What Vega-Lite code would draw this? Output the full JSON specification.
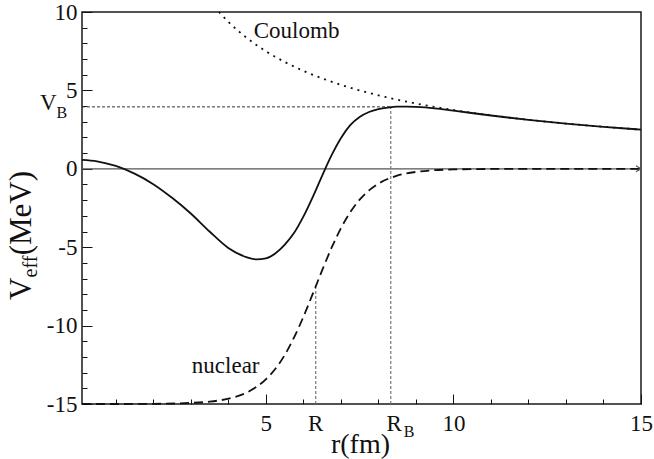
{
  "$schema": "https://vega.github.io/schema/vega-lite/v6.json",
  "width": 559,
  "height": 392,
  "autosize": "none",
  "padding": {"left": 82, "top": 12, "right": 13, "bottom": 55},
  "background": "white",
  "config": {
    "font": "Liberation Serif",
    "view": {"stroke": "#1a1a1a", "strokeWidth": 1.5},
    "axis": {
      "grid": false,
      "domain": false,
      "tickColor": "#111",
      "tickWidth": 1,
      "labelFont": "Liberation Serif",
      "labelFontSize": 23,
      "labelColor": "#111",
      "titleFont": "Liberation Serif",
      "titleColor": "#111",
      "titleFontWeight": "normal",
      "labelFlush": false,
      "labelOverlap": false
    }
  },
  "datasets": {
    "total": [
      {"r": 0.1, "v": 0.57}, {"r": 0.5, "v": 0.48}, {"r": 1.0, "v": 0.18}, {"r": 1.5, "v": -0.31},
      {"r": 2.0, "v": -0.98}, {"r": 2.5, "v": -1.85}, {"r": 3.0, "v": -2.85}, {"r": 3.5, "v": -4.0},
      {"r": 4.0, "v": -5.05}, {"r": 4.5, "v": -5.65}, {"r": 4.75, "v": -5.78}, {"r": 5.0, "v": -5.72},
      {"r": 5.25, "v": -5.4}, {"r": 5.5, "v": -4.85}, {"r": 5.75, "v": -4.1}, {"r": 6.0, "v": -3.05},
      {"r": 6.25, "v": -1.8}, {"r": 6.5, "v": -0.45}, {"r": 6.75, "v": 0.85}, {"r": 7.0, "v": 1.95},
      {"r": 7.25, "v": 2.78}, {"r": 7.5, "v": 3.3}, {"r": 7.75, "v": 3.62}, {"r": 8.0, "v": 3.8},
      {"r": 8.25, "v": 3.9}, {"r": 8.5, "v": 3.96}, {"r": 8.75, "v": 3.97}, {"r": 9.0, "v": 3.95},
      {"r": 9.5, "v": 3.86}, {"r": 10, "v": 3.71}, {"r": 11, "v": 3.4}, {"r": 12, "v": 3.12},
      {"r": 13, "v": 2.88}, {"r": 14, "v": 2.68}, {"r": 15, "v": 2.5}
    ],
    "nuclear": [
      {"r": 0.1, "v": -15}, {"r": 1, "v": -15}, {"r": 2, "v": -14.99}, {"r": 3, "v": -14.93},
      {"r": 3.5, "v": -14.85}, {"r": 4, "v": -14.66}, {"r": 4.5, "v": -14.26}, {"r": 5, "v": -13.43},
      {"r": 5.25, "v": -12.77}, {"r": 5.5, "v": -11.89}, {"r": 5.75, "v": -10.77}, {"r": 6, "v": -9.45},
      {"r": 6.25, "v": -7.98}, {"r": 6.5, "v": -6.48}, {"r": 6.75, "v": -5.05}, {"r": 7, "v": -3.8},
      {"r": 7.25, "v": -2.77}, {"r": 7.5, "v": -1.97}, {"r": 7.75, "v": -1.38}, {"r": 8, "v": -0.95},
      {"r": 8.5, "v": -0.44}, {"r": 9, "v": -0.2}, {"r": 9.5, "v": -0.09}, {"r": 10, "v": -0.04},
      {"r": 11, "v": -0.01}, {"r": 12, "v": 0}, {"r": 13, "v": 0}, {"r": 14, "v": 0}, {"r": 15, "v": 0}
    ],
    "coulomb": [
      {"r": 3.75, "v": 10.0}, {"r": 4, "v": 9.375}, {"r": 4.5, "v": 8.333}, {"r": 5, "v": 7.5},
      {"r": 5.5, "v": 6.818}, {"r": 6, "v": 6.25}, {"r": 6.5, "v": 5.769}, {"r": 7, "v": 5.357},
      {"r": 7.5, "v": 5.0}, {"r": 8, "v": 4.688}, {"r": 8.5, "v": 4.412}, {"r": 9, "v": 4.167},
      {"r": 9.5, "v": 3.947}, {"r": 10, "v": 3.75}, {"r": 11, "v": 3.409}, {"r": 12, "v": 3.125},
      {"r": 13, "v": 2.885}, {"r": 14, "v": 2.679}, {"r": 15, "v": 2.5}
    ],
    "zeroLine": [{"r": 0.1, "r2": 15, "v": 0, "v2": 0}],
    "barrierLevel": [{"r": 0.1, "r2": 8.33, "v": 3.95, "v2": 3.95}],
    "radii": [
      {"r": 6.33, "r2": 6.33, "v": -15, "v2": -7.5},
      {"r": 8.33, "r2": 8.33, "v": -15, "v2": 3.95}
    ],
    "arrowTip": [{"r": 15, "v": 0}],
    "labels": [
      {"text": "Coulomb", "r": 5.82, "v": 8.32},
      {"text": "nuclear", "r": 3.93, "v": -13.0},
      {"text": "R", "r": 6.33, "v": -16.73},
      {"text": "R", "r": 8.42, "v": -16.73},
      {"text": "V", "r": -0.795, "v": 3.75}
    ],
    "subscripts": [
      {"text": "B", "r": 8.82, "v": -17.1},
      {"text": "B", "r": -0.44, "v": 3.24}
    ],
    "yTitleMain": [
      {"text": "V", "r": -1.26, "v": -7.65},
      {"text": "(MeV)", "r": -1.26, "v": -2.83}
    ],
    "yTitleSub": [
      {"text": "eff", "r": -1.1, "v": -6.23}
    ]
  },
  "encoding": {
    "x": {
      "field": "r", "type": "quantitative",
      "scale": {"domain": [0.1, 15], "nice": false, "zero": false},
      "axis": {
        "title": "r(fm)",
        "titleFontSize": 28,
        "titleBaseline": "alphabetic",
        "titleY": 48,
        "titleX": 278,
        "values": [1, 2, 3, 4, 5, 6, 7, 8, 9, 10, 11, 12, 13, 14, 15],
        "labelExpr": "datum.value % 5 === 0 ? '' + datum.value : ''",
        "tickSize": {"condition": {"test": "datum.value % 5 === 0", "value": -10}, "value": -5},
        "labelPadding": 18
      }
    },
    "y": {
      "field": "v", "type": "quantitative",
      "scale": {"domain": [-15, 10], "nice": false, "zero": false},
      "axis": {
        "title": null,
        "values": [-15, -14, -13, -12, -11, -10, -9, -8, -7, -6, -5, -4, -3, -2, -1, 0, 1, 2, 3, 4, 5, 6, 7, 8, 9, 10],
        "labelExpr": "datum.value % 5 === 0 ? '' + datum.value : ''",
        "tickSize": {"condition": {"test": "datum.value % 5 === 0", "value": -10}, "value": -5},
        "labelPadding": 15
      }
    }
  },
  "layer": [
    {
      "data": {"name": "zeroLine"},
      "mark": {"type": "rule", "color": "#555", "strokeWidth": 1.2},
      "encoding": {"x2": {"field": "r2"}, "y2": {"field": "v2"}}
    },
    {
      "data": {"name": "barrierLevel"},
      "mark": {"type": "rule", "color": "#333", "strokeWidth": 1, "strokeDash": [3, 2]},
      "encoding": {"x2": {"field": "r2"}, "y2": {"field": "v2"}}
    },
    {
      "data": {"name": "radii"},
      "mark": {"type": "rule", "color": "#777", "strokeWidth": 1.2, "strokeDash": [3, 2]},
      "encoding": {"x2": {"field": "r2"}, "y2": {"field": "v2"}}
    },
    {
      "data": {"name": "coulomb"},
      "mark": {"type": "line", "color": "#111", "strokeWidth": 1.8, "strokeDash": [2, 5], "interpolate": "monotone"},
      "encoding": {}
    },
    {
      "data": {"name": "nuclear"},
      "mark": {"type": "line", "color": "#111", "strokeWidth": 1.8, "strokeDash": [9, 5], "interpolate": "monotone"},
      "encoding": {}
    },
    {
      "data": {"name": "total"},
      "mark": {"type": "line", "color": "#111", "strokeWidth": 1.8, "interpolate": "monotone"},
      "encoding": {}
    },
    {
      "data": {"name": "arrowTip"},
      "mark": {"type": "point", "shape": "M-1,-0.6L0,0L-1,0.6", "size": 100, "filled": false, "stroke": "#555", "strokeWidth": 1.2, "opacity": 1},
      "encoding": {}
    },
    {
      "data": {"name": "labels"},
      "mark": {"type": "text", "font": "Liberation Serif", "fontSize": 23, "color": "#111", "align": "center", "baseline": "alphabetic"},
      "encoding": {"text": {"field": "text"}}
    },
    {
      "data": {"name": "subscripts"},
      "mark": {"type": "text", "font": "Liberation Serif", "fontSize": 16, "color": "#111", "align": "center", "baseline": "alphabetic"},
      "encoding": {"text": {"field": "text"}}
    },
    {
      "data": {"name": "yTitleMain"},
      "mark": {"type": "text", "font": "Liberation Serif", "fontSize": 31, "color": "#111", "align": "center", "baseline": "alphabetic", "angle": 270},
      "encoding": {"text": {"field": "text"}}
    },
    {
      "data": {"name": "yTitleSub"},
      "mark": {"type": "text", "font": "Liberation Serif", "fontSize": 20, "color": "#111", "align": "center", "baseline": "alphabetic", "angle": 270},
      "encoding": {"text": {"field": "text"}}
    }
  ]
}
